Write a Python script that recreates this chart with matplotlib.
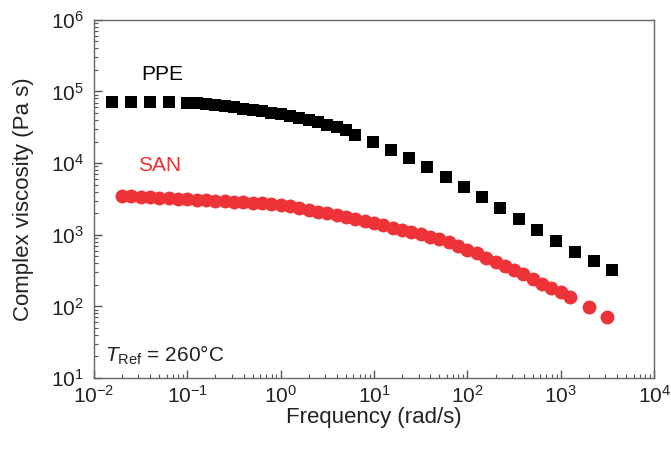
import numpy as np
import matplotlib
matplotlib.use("Agg")
import matplotlib.pyplot as plt
from matplotlib.ticker import LogLocator, NullFormatter

plt.rcParams['font.family'] = ['Liberation Sans', 'DejaVu Sans']
plt.rcParams['mathtext.fontset'] = 'custom'
plt.rcParams['mathtext.rm'] = 'Liberation Sans'
plt.rcParams['mathtext.it'] = 'Liberation Sans:italic'

# PPE complex viscosity (Pa s) vs frequency (rad/s)
ppe_freq = [0.0158, 0.0251, 0.0398, 0.0631,
            0.100, 0.126, 0.158, 0.200, 0.251, 0.316, 0.398, 0.501, 0.631,
            0.794, 1.00, 1.26, 1.58, 2.00, 2.51, 3.16, 3.98, 5.01,
            6.3, 9.8, 15.2, 23.5, 37, 59, 91, 144, 224, 355, 562, 891,
            1413, 2239, 3548]
ppe_visc = [72000, 72000, 71500, 71000,
            69300, 68300, 66100, 64000, 62000, 60000, 57200, 55400, 52700,
            50200, 47900, 45600, 42800, 39400, 37000, 34200, 31600, 29100,
            24800, 19800, 15300, 11800, 8850, 6420, 4650, 3370, 2370, 1660,
            1170, 819, 575, 431, 322]

# SAN complex viscosity (Pa s) vs frequency (rad/s)
san_freq = [0.020, 0.025, 0.032, 0.040, 0.050, 0.063, 0.079,
            0.100, 0.126, 0.158, 0.200, 0.251, 0.316, 0.398, 0.501, 0.631, 0.794,
            1.00, 1.26, 1.58, 2.00, 2.51, 3.16, 3.98, 5.01, 6.31, 7.94,
            10.0, 12.6, 15.8, 20.0, 25.1, 31.6, 39.8, 50.1, 63.1, 79.4,
            100, 126, 158, 200, 251, 316, 398, 501, 631, 794,
            1000, 1259, 1995, 3090]
san_visc = [3510, 3440, 3390, 3330, 3270, 3220, 3170,
            3130, 3080, 3030, 2990, 2940, 2900, 2850, 2800, 2740, 2680,
            2610, 2500, 2370, 2240, 2100, 1990, 1870, 1760, 1660, 1560,
            1470, 1360, 1260, 1170, 1090, 1010, 944, 880, 785, 695,
            617, 547, 480, 420, 366, 321, 279, 241, 207, 181,
            158, 136, 98, 71]

x_ticks = [1e-2, 1e-1, 1e0, 1e1, 1e2, 1e3, 1e4]
y_ticks = [1e1, 1e2, 1e3, 1e4, 1e5, 1e6]

fig = plt.figure(figsize=(6.71, 4.50), dpi=100)
ax = fig.add_axes([0.140, 0.160, 0.835, 0.796])

ax.plot(ppe_freq, ppe_visc, 's', color='black', markersize=9, markeredgewidth=0)
ax.plot(san_freq, san_visc, 'o', color='#ee3338', markersize=10, markeredgewidth=0)

ax.set_xscale('log')
ax.set_yscale('log')
ax.set_xlim(1e-2, 1e4)
ax.set_ylim(1e1, 1e6)

ax.set_xticks(x_ticks)
ax.set_yticks(y_ticks)
ax.xaxis.set_minor_locator(LogLocator(base=10, subs=np.arange(2, 10), numticks=10))
ax.yaxis.set_minor_locator(LogLocator(base=10, subs=np.arange(2, 10), numticks=10))
ax.xaxis.set_minor_formatter(NullFormatter())
ax.yaxis.set_minor_formatter(NullFormatter())

ax.tick_params(which='both', direction='in', top=False, right=False,
               colors='#555555', labelcolor='#222222')
ax.tick_params(which='major', length=6, width=1, labelsize=15)
ax.tick_params(axis='x', which='major', pad=5)
ax.tick_params(axis='y', which='major', pad=7)
ax.tick_params(which='minor', length=3, width=0.8)
for s in ax.spines.values():
    s.set_color('#666666')
    s.set_linewidth(1)

ax.set_xlabel('Frequency (rad/s)', fontsize=16, color='#222222', labelpad=0)
ax.set_ylabel('Complex viscosity (Pa s)', fontsize=16, color='#222222', labelpad=12)

ax.text(0.054, 1.25e5, 'PPE', fontsize=15, color='black', ha='center', va='bottom')
ax.text(0.050, 6.8e3, 'SAN', fontsize=15, color='#ee3338', ha='center', va='bottom')
ax.text(0.0131, 16.7, r'$T_{\rm Ref}$ = 260°C', fontsize=15, color='#222222',
        ha='left', va='baseline')

fig.savefig('out.png', dpi=100)
